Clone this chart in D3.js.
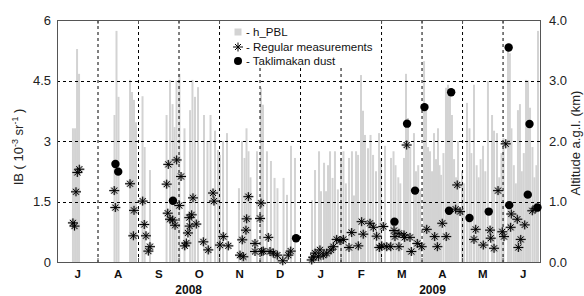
<!DOCTYPE html>
<html>
<head>
<meta charset="utf-8">
<script src="https://cdn.jsdelivr.net/npm/d3@7"></script>
<style>
  html, body { margin: 0; padding: 0; background: #fff; }
  svg text { font-family: 'Liberation Sans', Arial, sans-serif; }
</style>
</head>
<body>
<div id="chart"></div>
<script>
// x values are days since 1 Jul 2008 (the axis uses 30.5-day months)
const monthLabels = ['J', 'A', 'S', 'O', 'N', 'D', 'J', 'F', 'M', 'A', 'M', 'J']
const yearLabels = [{ label: '2008', month: 3.25 }, { label: '2009', month: 9.27 }]
const leftTicks = [0, 1.5, 3, 4.5, 6]
const rightTicks = [0, 1, 2, 3, 4]

// h_PBL, km (right axis)
const pblDays = [
  12.0, 13.6, 15.1, 16.6, 43.3, 44.8, 46.3, 55.0, 56.5, 58.0, 59.5, 64.4, 66.0, 70.0,
  82.5, 85.1, 87.0, 88.5, 90.0, 92.2, 96.0, 100.2, 102.0, 103.9, 106.2, 110.7, 113.3,
  115.6, 119.0, 121.2, 122.7, 125.0, 128.0, 137.0, 139.3, 141.2, 142.7, 144.2, 145.7,
  150.6, 153.6, 155.1, 158.1, 161.1, 163.8, 166.0, 170.6, 173.2, 176.2, 179.2,
  192.0, 194.3, 197.3, 198.8, 201.1, 202.6, 204.1, 205.6, 207.5, 209.3, 211.5, 213.9,
  215.7, 217.5, 219.9, 222.1, 223.6, 225.2, 226.7, 228.9, 230.4, 231.9, 234.2, 236.1,
  238.0, 240.2, 242.5, 244.0, 247.0, 251.5, 253.4, 254.9, 257.0, 258.5, 261.3, 262.8,
  264.3, 266.0, 268.8, 270.3, 272.0, 273.5, 276.4, 277.9, 279.4, 280.9, 282.4, 283.9,
  285.4, 286.9, 288.0, 289.2, 291.0, 292.9, 294.4, 295.9, 297.4, 299.0, 300.5, 302.0,
  305.0, 306.5, 308.7, 310.6, 312.0, 314.0, 316.0, 317.5, 319.0, 320.8, 322.5, 324.5,
  327.6, 329.1, 331.3, 333.0, 334.7, 336.2, 339.6, 341.0, 342.2, 344.0, 345.5, 347.1,
  348.6, 350.0, 351.5, 353.2, 354.7, 356.2, 358.0, 359.5, 361.0, 362.2
]
const pblKm = [
  2.21, 2.21, 3.52, 3.11, 2.43, 3.82, 2.73, 3.01, 2.81, 2.68, 2.31, 2.74, 1.9, 1.52,
  2.43, 3.01, 2.61, 2.23, 3.0, 3.11, 2.21, 2.51, 3.01, 2.73, 2.89, 2.43, 2.0,
  2.43, 2.17, 1.85, 1.77, 2.0, 2.13, 1.22, 2.0, 1.72, 2.21, 1.83, 1.4,
  1.83, 2.88, 2.6, 1.83, 1.67, 1.39, 1.22, 1.39, 1.11, 1.92, 1.72,
  1.02, 1.52, 1.83, 1.17, 1.64, 1.17, 1.6, 1.83, 1.39, 1.83, 1.2, 1.72,
  1.83, 1.3, 1.72, 1.83, 1.1, 1.83, 1.77, 3.09, 2.5, 2.1, 1.88, 2.1,
  1.77, 1.5, 2.13, 1.72, 1.92, 1.72, 1.83, 1.6, 1.4, 1.3, 1.72, 3.11,
  2.38, 1.9, 2.13, 1.5, 1.6, 1.2, 3.32, 2.6, 1.9, 1.83, 1.5, 2.13,
  1.7, 2.21, 1.6, 1.44, 1.8, 2.88, 2.93, 2.79, 2.43, 1.7, 1.4, 2.0,
  1.5, 1.3, 2.63, 2.21, 1.8, 2.93, 1.6, 1.4, 1.7, 1.92, 1.5, 2.99,
  2.43, 2.17, 2.13, 1.4, 1.8, 2.05, 3.5, 3.45, 2.21, 1.6, 1.3, 2.51,
  2.61, 1.5, 1.8, 3.01, 3.0, 2.55, 1.9, 1.4, 1.6, 3.82
]

// Regular measurements, IB (left axis)
const regularDays = [
  12.0, 13.2, 14.3, 15.3, 16.8, 43.1, 43.9, 55.0, 58.0, 57.5, 64.5, 65.7, 67.0, 70.0,
  68.8, 83.8, 90.1, 82.6, 93.4, 92.1, 83.4, 85.1, 87.1, 88.9, 102.4, 101.4, 99.6, 104.9,
  99.9, 98.6, 97.4, 96.2, 117.5, 118.2, 110.2, 113.9, 122.7, 125.2, 129.0, 137.8, 139.5,
  140.3, 142.3, 142.8, 144.1, 149.1, 149.1, 153.6, 152.9, 154.1, 155.3, 159.1, 160.4,
  162.9, 165.9, 170.0, 174.2, 176.0, 191.8, 193.0, 194.3, 196.8, 198.0, 200.5, 203.1,
  206.3, 208.1, 210.6, 213.1, 215.6, 219.9, 221.9, 226.9, 229.4, 230.6, 235.7, 238.2,
  240.7, 242.7, 244.5, 245.7, 248.3, 251.3, 253.8, 254.5, 257.5, 257.5, 261.3, 261.8,
  263.3, 265.8, 266.8, 271.3, 274.6, 278.4, 284.4, 286.4, 290.1, 293.1, 300.2, 301.4,
  303.5, 315.3, 314.0, 321.0, 326.1, 326.6, 329.1, 332.1, 335.3, 336.6, 337.9, 341.6,
  342.1, 346.6, 349.2, 347.4, 352.2, 357.9, 360.5
]
const regularIB = [
  0.97, 0.89, 1.74, 2.22, 2.30, 1.77, 1.35, 1.94, 1.28, 0.65, 1.51, 0.93, 0.65, 0.38,
  0.27, 2.42, 2.53, 1.93, 2.12, 1.40, 1.21, 1.06, 1.04, 0.91, 1.59, 1.17, 1.10, 0.94,
  0.89, 0.72, 0.47, 0.40, 1.71, 1.51, 0.50, 0.30, 0.42, 0.63, 0.40, 0.17, 0.55,
  0.13, 0.79, 1.07, 1.62, 0.26, 0.46, 1.46, 1.08, 0.26, 0.27, 0.61, 0.26,
  0.22, 0.17, 0.03, 0.17, 0.27, 0.05, 0.12, 0.22, 0.13, 0.30, 0.17, 0.22,
  0.30, 0.38, 0.56, 0.53, 0.56, 0.36, 0.73, 0.40, 1.00, 0.69, 0.96, 0.86,
  0.64, 0.36, 0.40, 0.88, 0.38, 0.38, 0.78, 0.63, 0.38, 0.71, 0.67, 0.61,
  2.90, 0.61, 0.26, 0.46, 0.38, 0.81, 0.63, 0.38, 0.96, 0.63, 1.31, 1.91,
  1.25, 0.81, 0.56, 0.42, 0.79, 0.59, 0.34, 1.77, 0.75, 0.63, 2.93, 0.86,
  1.19, 1.06, 0.56, 0.36, 0.92, 1.27, 1.33
]

// Taklimakan dust, IB (left axis)
const dustDays = [44.0, 46.1, 87.3, 180.0, 254.1, 263.6, 269.6, 276.7, 296.8, 295.2, 310.6, 325.1, 340.1, 340.5, 354.5, 355.8, 361.8]
const dustIB = [2.43, 2.24, 1.52, 0.59, 1.00, 3.43, 1.77, 3.84, 4.21, 1.27, 1.09, 1.25, 5.32, 1.41, 1.67, 3.42, 1.35]

const monthDays = 30.5

function makeChart() {
  const width = 584
  const height = 296
  const margin = { top: 20, right: 44, bottom: 34, left: 57 }

  const svg = d3
    .create('svg')
    .attr('width', width)
    .attr('height', height)

  // scales
  const xScale = d3.scaleLinear().domain([0, 363.7]).range([margin.left, width - margin.right])
  const yLeft = d3.scaleLinear().domain([0, 6]).range([height - margin.bottom, margin.top])
  const yRight = d3.scaleLinear().domain([0, 4]).range([height - margin.bottom, margin.top])

  const x0 = xScale.range()[0]
  const x1 = xScale.range()[1]
  const yTop = yLeft.range()[1]
  const yBottom = yLeft.range()[0]

  // h_PBL bars
  const pbl = pblDays.map((d, i) => ({ day: d, km: pblKm[i] }))
  svg
    .append('g')
    .attr('class', 'bars')
    .selectAll('rect')
    .data(pbl)
    .join('rect')
    .attr('x', d => xScale(d.day) - 1)
    .attr('width', 2)
    .attr('y', d => yRight(d.km))
    .attr('height', d => yRight(0) - yRight(d.km))
    .attr('fill', '#d3d3d3')

  // dashed grid
  const monthBounds = d3.range(1, 12).map(i => i * monthDays)
  const grid = svg.append('g').attr('class', 'grid')
  grid
    .selectAll('line.v')
    .data(monthBounds)
    .join('line')
    .attr('class', 'v')
    .attr('x1', d => xScale(d) + 0.5)
    .attr('x2', d => xScale(d) + 0.5)
    .attr('y1', yTop)
    .attr('y2', yBottom)
  grid
    .selectAll('line.h')
    .data([1.5, 3, 4.5])
    .join('line')
    .attr('class', 'h')
    .attr('x1', x0)
    .attr('x2', x1)
    .attr('y1', d => Math.round(yLeft(d)) + 0.5)
    .attr('y2', d => Math.round(yLeft(d)) + 0.5)
  grid.selectAll('line').attr('stroke', '#000').attr('stroke-width', 1).attr('stroke-dasharray', '3,3')

  // frame
  svg
    .append('rect')
    .attr('x', x0 + 0.5)
    .attr('y', yTop + 0.5)
    .attr('width', x1 - x0)
    .attr('height', yBottom - yTop)
    .attr('fill', 'none')
    .attr('stroke', '#555')

  // small tick marks on the month bounds, top and bottom
  const ticks = svg.append('g').attr('stroke', '#555')
  monthBounds.forEach(d => {
    ticks.append('line').attr('x1', xScale(d) + 0.5).attr('x2', xScale(d) + 0.5).attr('y1', yTop).attr('y2', yTop + 4)
    ticks.append('line').attr('x1', xScale(d) + 0.5).attr('x2', xScale(d) + 0.5).attr('y1', yBottom - 4).attr('y2', yBottom)
  })

  // regular measurements: asterisk markers
  const starPath = 'M-5,0H5M0,-4.5V4.5M-3,-3L3,3M-3,3L3,-3'
  const regular = regularDays.map((d, i) => ({ day: d, ib: regularIB[i] }))
  const stars = svg.append('g').attr('class', 'regular')
  stars
    .selectAll('path.halo')
    .data(regular)
    .join('path')
    .attr('class', 'halo')
    .attr('transform', d => `translate(${xScale(d.day)}, ${yLeft(d.ib)})`)
    .attr('d', starPath)
    .attr('stroke', '#999')
    .attr('stroke-width', 2.4)
    .attr('opacity', 0.5)
  stars
    .selectAll('path.star')
    .data(regular)
    .join('path')
    .attr('class', 'star')
    .attr('transform', d => `translate(${xScale(d.day)}, ${yLeft(d.ib)})`)
    .attr('d', starPath)
    .attr('stroke', '#000')
    .attr('stroke-width', 1)

  // Taklimakan dust: filled dots
  const dust = dustDays.map((d, i) => ({ day: d, ib: dustIB[i] }))
  svg
    .append('g')
    .attr('class', 'dust')
    .selectAll('circle')
    .data(dust)
    .join('circle')
    .attr('cx', d => xScale(d.day))
    .attr('cy', d => yLeft(d.ib))
    .attr('r', 4.2)
    .attr('fill', '#000')

  // left axis
  const leftAxis = svg
    .append('g')
    .attr('transform', `translate(${x0}, 0)`)
    .call(d3.axisLeft(yLeft).tickValues(leftTicks).tickFormat(d => d).tickSize(0).tickPadding(6))
  leftAxis.select('.domain').remove()
  leftAxis.selectAll('text').attr('font-size', 13).attr('fill', '#222').attr('font-family', "'Liberation Sans', Arial, sans-serif")

  // right axis
  const rightAxis = svg
    .append('g')
    .attr('transform', `translate(${x1}, 0)`)
    .call(d3.axisRight(yRight).tickValues(rightTicks).tickSize(0).tickPadding(9))
  rightAxis.select('.domain').remove()
  rightAxis.selectAll('text').attr('font-size', 13).attr('fill', '#222').attr('font-family', "'Liberation Sans', Arial, sans-serif")

  // month labels
  const bottomAxis = svg
    .append('g')
    .attr('transform', `translate(0, ${yBottom})`)
    .call(
      d3
        .axisBottom(xScale)
        .tickValues(monthLabels.map((m, i) => (i + 0.5) * monthDays))
        .tickFormat((d, i) => monthLabels[i])
        .tickSize(0)
        .tickPadding(8)
    )
  bottomAxis.select('.domain').remove()
  bottomAxis
    .selectAll('text')
    .attr('font-size', 11.5)
    .attr('font-weight', 'bold')
    .attr('fill', '#111')
    .attr('font-family', "'Liberation Sans', Arial, sans-serif")

  svg
    .append('g')
    .selectAll('text')
    .data(yearLabels)
    .join('text')
    .attr('x', d => xScale(d.month * monthDays))
    .attr('y', 294)
    .attr('text-anchor', 'middle')
    .attr('font-size', 12)
    .attr('font-weight', 'bold')
    .attr('fill', '#111')
    .text(d => d.label)

  // axis titles
  const leftTitle = svg
    .append('text')
    .attr('transform', `translate(23, ${(yTop + yBottom) / 2 + 6}) rotate(-90)`)
    .attr('text-anchor', 'middle')
    .attr('font-size', 13)
    .attr('fill', '#222')
  leftTitle.append('tspan').text('IB ( 10')
  leftTitle.append('tspan').attr('dy', -5).attr('font-size', 9).text('-3')
  leftTitle.append('tspan').attr('dy', 5).text(' sr')
  leftTitle.append('tspan').attr('dy', -5).attr('font-size', 9).text('-1')
  leftTitle.append('tspan').attr('dy', 5).text(' )')

  svg
    .append('text')
    .attr('transform', `translate(580, ${(yTop + yBottom) / 2 + 2}) rotate(-90)`)
    .attr('text-anchor', 'middle')
    .attr('font-size', 13)
    .attr('fill', '#222')
    .text('Altitude a.g.l. (km)')

  // legend, on a white box that hides the grid behind it
  const legend = svg.append('g').attr('transform', 'translate(238, 32)')
  legend.append('rect').attr('x', -10).attr('y', -11).attr('width', 150).attr('height', 47).attr('fill', '#fff')
  legend.append('rect').attr('x', -3.5).attr('y', -3.5).attr('width', 7).attr('height', 7).attr('fill', '#d3d3d3')
  legend.append('path').attr('transform', 'translate(0, 15)').attr('d', starPath).attr('stroke', '#000').attr('stroke-width', 1)
  legend.append('circle').attr('cx', 0).attr('cy', 29).attr('r', 4).attr('fill', '#000')
  legend
    .selectAll('text')
    .data(['- h_PBL', '- Regular measurements', '- Taklimakan dust'])
    .join('text')
    .attr('x', 8)
    .attr('y', (d, i) => i * 14.5 + 4)
    .attr('font-size', 11.5)
    .attr('fill', '#111')
    .text(d => d)

  document.getElementById('chart').appendChild(svg.node())
}

makeChart()
</script>
</body>
</html>
